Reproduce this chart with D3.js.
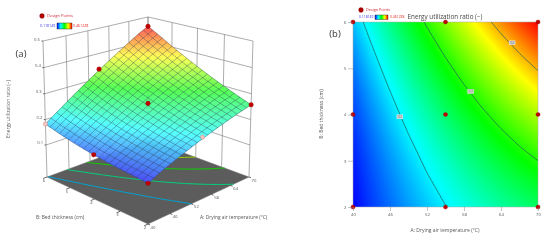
<!DOCTYPE html>
<html>
<head>
<meta charset="utf-8">
<script src="https://cdn.jsdelivr.net/npm/d3@7"></script>
<style>
html,body{margin:0;padding:0;background:#fff;overflow:hidden}
#wrap{position:relative;width:550px;height:241px;filter:blur(.3px)}
canvas,svg{position:absolute;left:0;top:0}
text{font-family:"Open Sans",sans-serif}
</style>
</head>
<body>
<div id="wrap"><canvas id="heat" width="550" height="241"></canvas><svg id="chart" width="550" height="241"></svg></div>
<script>
// ---- data ----
const tempValues = [40,43,46,49,52,55,58,61,64,67,70];
const thickValues = [2,2.5,3,3.5,4,4.5,5,5.5,6];
const ratioB20 = [.118,.1378,.1543,.170,.1849,.199,.2123,.2248,.2365,.2474,.2575];
const ratioB25 = [.123,.1421,.1604,.1779,.1946,.2105,.2256,.2399,.2534,.2661,.278];
const ratioB30 = [.127,.1479,.168,.1873,.2058,.2235,.2404,.2565,.2718,.2863,.300];
const ratioB35 = [.1325,.1552,.1771,.1982,.2185,.238,.2567,.2746,.2917,.308,.3235];
const ratioB40 = [.1395,.164,.1877,.2106,.2327,.254,.2745,.2942,.3131,.3312,.3485];
const ratioB45 = [.148,.1743,.1998,.2245,.2484,.2715,.2938,.3153,.336,.3559,.375];
const ratioB50 = [.158,.1861,.2134,.2399,.2656,.2905,.3146,.3379,.3604,.3821,.403];
const ratioB55 = [.1695,.1994,.2285,.2568,.2844,.311,.3368,.362,.3863,.4098,.4325];
const ratioB60 = [.1825,.2142,.2451,.2752,.3045,.333,.3607,.3876,.4137,.439,.461];
const ratioRows = [ratioB20,ratioB25,ratioB30,ratioB35,ratioB40,ratioB45,ratioB50,ratioB55,ratioB60];

const tempTicks = [40,46,52,58,64,70];
const thickTicks = [2,3,4,5,6];
const ratioTicks = [.1,.2,.3,.4,.5];
const floorLevels = [.185,.24,.295,.35];
const mapLevels = [.2,.3,.4];
const mapLabelSpots = [[47.6,3.95,"0.2"],[59.1,4.5,"0.3"],[65.8,5.55,"0.4"]];
const designTemp = [40,40,40,55,55,55,70,70,70];
const designThick = [2,4,6,2,4,6,2,4,6];
const surfaceTemp = [40,40,55,55,70,70];
const surfaceThick = [2,4,4,6,2,6];
const surfaceRatio = [.118,.1395,.263,.337,.2575,.461];
const paleTemp = [55,40];
const paleThick = [2,6];
const paleRatio = [.205,.1825];
const colorStops = [.118,.204,.29,.375,.461];
const colorNames = ["#0000ff","#00ffff","#00ff00","#ffff00","#ff0000"];
const legendMin = "0.118149", legendMax = "0.461228";
const titleText = "Energy utilization ratio (\u2212)";
const tempTitle = "A: Drying air temperature (\u00b0C)";
const thickTitle = "B: Bed thickness (cm)";

// ---- helpers ----
const color = d3.scaleLinear().domain(colorStops).range(colorNames).clamp(true);
const tempIdx = d3.scaleLinear([40,70],[0,tempValues.length-1]);
const thickIdx = d3.scaleLinear([2,6],[0,thickValues.length-1]);
function ratioAt(A,B){
  const fx=tempIdx(A), fy=thickIdx(B);
  const i=Math.min(Math.floor(fx),tempValues.length-2), j=Math.min(Math.floor(fy),thickValues.length-2);
  const u=fx-i, v=fy-j;
  return (1-v)*((1-u)*ratioRows[j][i]+u*ratioRows[j][i+1])+v*((1-u)*ratioRows[j+1][i]+u*ratioRows[j+1][i+1]);
}
const flat = ratioRows.flat();
function contourLines(level){
  const nx=tempValues.length, ny=thickValues.length, e=1e-6, out=[];
  const c=d3.contours().size([nx,ny]).smooth(true).thresholds([level])(flat)[0];
  c.coordinates.forEach(poly=>poly.forEach(ring=>{
    let cur=[]; const pts=ring.concat(ring.slice(1)); let started=false;
    const inside=p=>p[0]>=.5-e&&p[0]<=nx-.5+e&&p[1]>=.5-e&&p[1]<=ny-.5+e;
    let seen=0;
    for(const p of pts){
      if(seen>ring.length+1) break;
      if(!started){ if(!inside(p)) started=true; seen=0; continue; }
      seen++;
      if(inside(p)) cur.push([tempIdx.invert(p[0]-.5),thickIdx.invert(p[1]-.5)]);
      else { if(cur.length>1) out.push(cur); cur=[]; }
    }
    if(cur.length>1) out.push(cur);
  }));
  return out;
}
const svg=d3.select("#chart");
const grey="#555";

// ---- (a) 3D surface ----
const sa=d3.scaleLinear([40,70],[-1,1]), sb=d3.scaleLinear([2,6],[-1,1]), sz=d3.scaleLinear([-.028,.5],[0,1]);
function P(A,B,Z){
  const a=sa(A), b=sb(B), z=sz(Z), w=1+.0577*(a+b)-.038*z;
  return [148+50.5*(a-b)/w, 177+(-(a+b)*20.8-130.8*z)/w];
}
const line3=d3.line();
const g3=svg.append("g");
const wallZ=[-.028,.5];
g3.append("path").attr("d",line3([P(40,2,-.028),P(70,2,-.028),P(70,6,-.028),P(40,6,-.028)])+"Z").attr("fill","#5c5c5c").attr("stroke","#777").attr("stroke-width",.5);
const wallG=g3.append("g").attr("fill","none").attr("stroke","#808080").attr("stroke-width",.65);
tempTicks.forEach(A=>wallG.append("path").attr("d",line3(wallZ.map(Z=>P(A,6,Z)))));
thickTicks.forEach(B=>wallG.append("path").attr("d",line3(wallZ.map(Z=>P(70,B,Z)))));
ratioTicks.forEach(Z=>{
  wallG.append("path").attr("d",line3([P(40,6,Z),P(70,6,Z),P(70,2,Z)]));
});
const lineShade=d=>d3.color(color(d)).darker(.55).formatHex();
floorLevels.forEach(L=>{
  contourLines(L).forEach(seg=>g3.append("path")
    .attr("d",d3.line().curve(d3.curveCatmullRom)(seg.map(p=>P(p[0],p[1],-.028))))
    .attr("fill","none").attr("stroke",lineShade(L)).attr("stroke-width",1));
});
tempTicks.forEach(A=>{
  const p=P(A,2,-.028), q=P(A,1.93,-.028);
  g3.append("path").attr("d",line3([p,q])).attr("stroke","#222").attr("stroke-width",.7);
  g3.append("text").attr("x",p[0]+5).attr("y",p[1]+4.5).attr("text-anchor","middle").attr("font-size",4.2).attr("fill",grey).text(A);
});
thickTicks.forEach(B=>{
  const p=P(40,B,-.028), q=P(39,B,-.028);
  g3.append("path").attr("d",line3([p,q])).attr("stroke","#222").attr("stroke-width",.7);
  g3.append("text").attr("x",p[0]-3).attr("y",p[1]+5).attr("text-anchor","middle").attr("font-size",4.2).attr("fill",grey).text(B);
});
ratioTicks.forEach(Z=>{
  const p=P(40,6,Z);
  g3.append("path").attr("d",line3([p,[p[0]-1.5,p[1]]])).attr("stroke","#222").attr("stroke-width",.7);
  g3.append("text").attr("x",p[0]-3).attr("y",p[1]-.5).attr("text-anchor","end").attr("font-size",4.2).attr("fill",grey).text(Z.toFixed(1));
});
const n=56, mesh=20;
const tStep=d=>40+30*d/n, bStep=d=>2+4*d/n;
const gs=g3.append("g");
const lighten=c=>d3.interpolateRgb(c,"#ffffff")(.3);
for(let i=0;i<n;i++) for(let j=0;j<n;j++){
  const q=[[i,j],[i+1,j],[i+1,j+1],[i,j+1]].map(([x,y])=>{const A=tStep(x),B=bStep(y);return P(A,B,ratioAt(A,B));});
  const f=lighten(color(ratioAt(tStep(i+.5),bStep(j+.5))));
  gs.append("path").attr("d",line3(q)+"Z").attr("fill",f).attr("stroke",f).attr("stroke-width",.35);
}
const meshG=g3.append("g").attr("fill","none").attr("stroke","#24304a").attr("stroke-opacity",.65).attr("stroke-width",.55);
const sampled=d3.range(0,1.0001,1/40);
d3.range(mesh+1).forEach(k=>{
  const A=40+30*k/mesh, B=2+4*k/mesh;
  meshG.append("path").attr("d",line3(sampled.map(t=>{const bb=2+4*t;return P(A,bb,ratioAt(A,bb));})));
  meshG.append("path").attr("d",line3(sampled.map(t=>{const aa=40+30*t;return P(aa,B,ratioAt(aa,B));})));
});
surfaceTemp.forEach((A,i)=>{
  const p=P(A,surfaceThick[i],surfaceRatio[i]);
  g3.append("circle").attr("cx",p[0]).attr("cy",p[1]).attr("r",2.3).attr("fill","#c00000").attr("stroke","#8a0000").attr("stroke-width",.3);
});
paleTemp.forEach((A,i)=>{
  const p=P(A,paleThick[i],paleRatio[i]);
  g3.append("circle").attr("cx",p[0]).attr("cy",p[1]).attr("r",2.2).attr("fill","#f5c6c0").attr("stroke","#c98080").attr("stroke-width",.4);
});

const t=(x,y,s,size,fill,anchor,rot)=>{
  const e=svg.append("text").attr("font-size",size).attr("fill",fill).attr("text-anchor",anchor||"start").text(s);
  if(rot) e.attr("transform",`translate(${x},${y}) rotate(${rot})`); else e.attr("x",x).attr("y",y);
  return e;
};
t(21,57,"(a)",9.5,"#333","middle");
t(10,109,titleText,4.9,grey,"middle",-90);
t(36,218.5,thickTitle,4.9,grey);
t(200,218.5,tempTitle,4.9,grey);

const gradId="lg";
const defs=svg.append("defs");
const lg=defs.append("linearGradient").attr("id",gradId);
colorStops.forEach((s,i)=>lg.append("stop").attr("offset",i/(colorStops.length-1)).attr("stop-color",colorNames[i]));
function legend(mx,my,bx,by,bw,bh,lx,rx,ty,fs,ns){
  svg.append("circle").attr("cx",mx).attr("cy",my).attr("r",2.4).attr("fill","#b00000").attr("stroke","#700").attr("stroke-width",.3);
  t(mx+5,my+1.3,"Design Points",fs,"#d02030");
  svg.append("rect").attr("x",bx).attr("y",by).attr("width",bw).attr("height",bh).attr("fill",`url(#${gradId})`).attr("stroke","#222").attr("stroke-width",.4);
  t(lx,ty,legendMin,ns,"#3030e0");
  t(rx,ty,legendMax,ns,"#e02020");
}
legend(42,16,57,23,15,6,40,73,27.3,4.1,3.6);
legend(361,10,375,15,13,4.5,359,390,18.4,3.8,3.4);

// ---- (b) contour map ----
const x=d3.scaleLinear([40,70],[353,538]), y=d3.scaleLinear([2,6],[207,22]);
const ctx=document.getElementById("heat").getContext("2d");
for(let px=353;px<538;px++) for(let py=22;py<207;py++){
  ctx.fillStyle=color(ratioAt(x.invert(px+.5),y.invert(py+.5)));
  ctx.fillRect(px,py,1,1);
}
svg.append("rect").attr("x",353).attr("y",22).attr("width",185).attr("height",185).attr("fill","none").attr("stroke","#a8a8a8").attr("stroke-width",.5);
const lineXY=d3.line().curve(d3.curveCatmullRom).x(d=>x(d[0])).y(d=>y(d[1]));
mapLevels.forEach(L=>contourLines(L).forEach(seg=>svg.append("path").attr("d",lineXY(seg)).attr("fill","none").attr("stroke","#1f5f55").attr("stroke-width",.7)));
mapLabelSpots.forEach(([A,B,s])=>{
  svg.append("rect").attr("x",x(A)-3).attr("y",y(B)-2).attr("width",6).attr("height",4).attr("fill","#c9c9c9").attr("stroke","#eee").attr("stroke-width",.4);
  svg.append("text").attr("x",x(A)).attr("y",y(B)+1).attr("text-anchor","middle").attr("font-size",2.8).attr("fill","#888").text(s);
});
designTemp.forEach((A,i)=>svg.append("circle").attr("cx",x(A)).attr("cy",y(designThick[i])).attr("r",2.1).attr("fill","#c00000").attr("stroke","#8a0000").attr("stroke-width",.3));
const axL=svg.append("g").attr("transform","translate(353,0)").call(d3.axisLeft(y).tickValues(thickTicks).tickSize(5).tickPadding(1.5).tickFormat(d3.format("d")));
const axB=svg.append("g").attr("transform","translate(0,207)").call(d3.axisBottom(x).tickValues(tempTicks).tickSize(4).tickPadding(2.5).tickFormat(d3.format("d")));
[axL,axB].forEach(g=>{
  g.select(".domain").remove();
  g.selectAll("line").attr("stroke","#888").attr("stroke-width",.5);
  g.selectAll("text").attr("font-size",4.2).attr("fill",grey).attr("font-family",'"Open Sans",sans-serif');
});
t(445,19,titleText,6.3,"#444","middle");
t(445,231.5,tempTitle,5,grey,"middle");
t(323,114,thickTitle,5,grey,"middle",-90);
t(335,37,"(b)",9.5,"#333","middle");
</script>
</body>
</html>
